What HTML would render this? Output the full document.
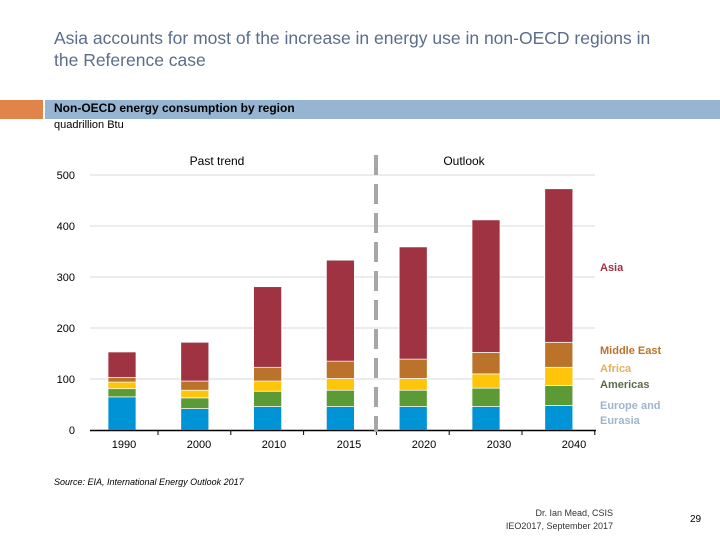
<!DOCTYPE html>
<html><head><meta charset="utf-8"><style>
body{margin:0;width:720px;height:540px;background:#fff;font-family:"Liberation Sans",sans-serif;position:relative;overflow:hidden}
.a{position:absolute;white-space:nowrap}
</style></head><body>
<div class="a" style="left:54px;top:28px;font-size:17.5px;line-height:21.5px;color:#5b6d8a">Asia accounts for most of the increase in energy use in non-OECD regions in<br>the Reference case</div>
<div class="a" style="left:0;top:100px;width:43px;height:19px;background:#e0844a"></div>
<div class="a" style="left:45px;top:100px;width:675px;height:19px;background:#95b5d3"></div>
<div class="a" style="left:54px;top:101px;font-size:12px;font-weight:bold;color:#000">Non-OECD energy consumption by region</div>
<div class="a" style="left:54px;top:119px;font-size:11px;color:#000">quadrillion Btu</div>
<svg class="a" style="left:0;top:0" width="720" height="540">
<g id="g"></g>
</svg>
<div class="a" style="left:54px;top:477px;font-size:9px;font-style:italic;color:#000">Source: EIA, International Energy Outlook 2017</div>
<div class="a" style="left:490px;top:507px;width:123px;text-align:right;font-size:9px;line-height:13px;color:#333">Dr. Ian Mead, CSIS<br>IEO2017, September 2017</div>
<div class="a" style="left:690px;top:514px;font-size:10px;color:#000">29</div>
<script>
const years=["1990","2000","2010","2015","2020","2030","2040"];
const europe=[65,42,46,46,46,46,48];
const americas=[16,21,30,32,32,36,39];
const africa=[13,15,20,23,23,28,36];
const middleEast=[9,18,27,34,38,42,49];
const asia=[50,76,158,198,220,260,301];
const yTicks=[0,100,200,300,400,500];
const series=[europe,americas,africa,middleEast,asia];
const names=["europe-eurasia","americas","africa","middle-east","asia"];
const colors=["#0094d6","#5b9a35","#ffc50a","#bb732b","#a03341"];
const g=document.getElementById('g');const NS="http://www.w3.org/2000/svg";
const y=v=>430-v*0.51;const xc=i=>122+i*72.8;
function mk(t,a){const e=document.createElementNS(NS,t);for(const k in a)e.setAttribute(k,a[k]);g.appendChild(e);return e;}
yTicks.forEach(t=>{
 if(t>0){const l=mk('line',{x1:90,x2:595,y1:y(t),y2:y(t),stroke:'#d9d9d9','stroke-width':1});
 
 }
 const tx=mk('text',{x:75,y:y(t)+4,'font-size':11,'text-anchor':'end',fill:'#000'});tx.textContent=t;
 
 
});
years.forEach((yr,i)=>{
 let c=0;
 series.forEach((s,k)=>{
  const r=mk('rect',{x:xc(i)-14,y:y(c+s[i]),width:28,height:s[i]*0.51,fill:colors[k],stroke:'#fff','stroke-width':0.7});
  
  
  c+=s[i];
 });
 const t=mk('text',{x:124+i*75,y:448,'font-size':11,'text-anchor':'middle',fill:'#000'});t.textContent=yr;
 
 
});
const ax=mk('line',{x1:90,x2:596,y1:430.5,y2:430.5,stroke:'#000','stroke-width':1.5});


for(let i=0;i<7;i++){const tk=mk('line',{x1:158+i*72.8,x2:158+i*72.8,y1:430,y2:435,stroke:'#000','stroke-width':1});
 
 }
const d=mk('line',{x1:376,x2:376,y1:155,y2:432,stroke:'#a6a6a6','stroke-width':4,'stroke-dasharray':'20,9'});


[["Past trend",217,"past-trend-label"],["Outlook",464,"outlook-label"]].forEach(([s,x,n])=>{const t=mk('text',{x:x,y:165,'font-size':12,'text-anchor':'middle',fill:'#000'});t.textContent=s;
 
 });
[["Asia",271,"#a03341"],["Middle East",354,"#bb732b"],["Africa",372,"#e0b25a"],["Americas",388,"#5d6b4a"],["Europe and",409,"#9fb5cc"],["Eurasia",424,"#9fb5cc"]].forEach(([s,yy,c])=>{
 const t=mk('text',{x:600,y:yy,'font-size':11,'font-weight':'bold',fill:c});t.textContent=s;
 
 
});
</script>
</body></html>
